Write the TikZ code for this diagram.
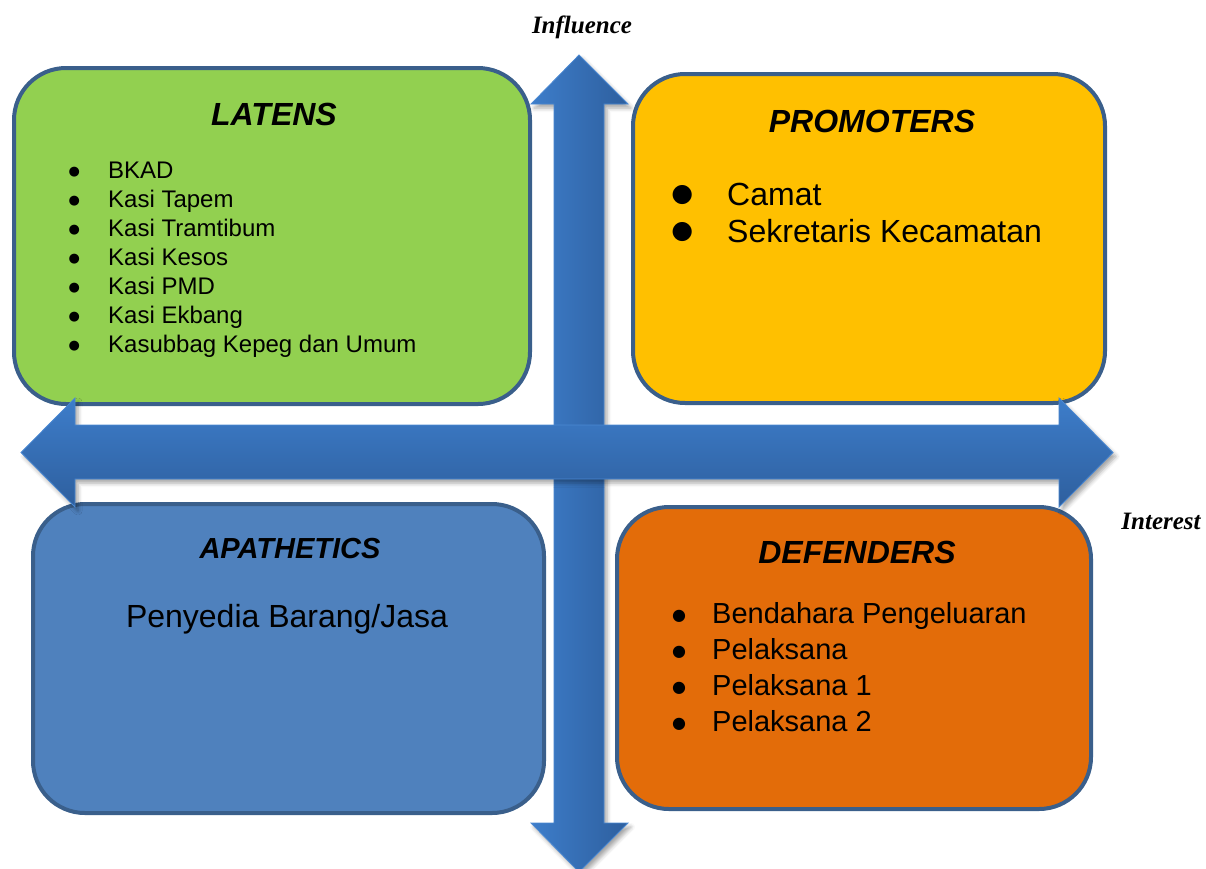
\documentclass[tikz,border=0pt]{standalone}
\usepackage{graphicx}
\usepackage{fontspec}
\setmainfont{Liberation Sans}
\newfontfamily\tnr{Liberation Serif}
\newfontfamily\djv{DejaVu Sans}
\usetikzlibrary{shadows.blur}
\definecolor{edgeblue}{HTML}{3A5F8B}
\definecolor{qgreen}{HTML}{92D050}
\definecolor{qyellow}{HTML}{FFC000}
\definecolor{qblue}{HTML}{4F81BD}
\definecolor{qorange}{HTML}{E36C09}
\definecolor{arlight}{HTML}{3D7DCA}
\definecolor{ardark}{HTML}{2E5F9E}
\definecolor{aredge}{HTML}{4A88D2}
% bullet: size, raise
\newcommand{\blt}[2]{\makebox[0pt][c]{\raisebox{#2}{\djv\fontsize{#1}{#1}\selectfont ●}}}
\tikzset{
  quad/.style={rectangle, rounded corners=52pt, draw=edgeblue, line width=4pt, inner sep=0pt},
  ttl/.style={font=\fontsize{32}{38}\selectfont\bfseries\itshape, anchor=base, inner sep=0pt},
  itm/.style={anchor=base west, inner sep=0pt},
  axislabel/.style={anchor=base, inner sep=0pt, font=\tnr\bfseries\itshape\fontsize{25}{29}\selectfont},
  bigarrow/.style={draw=aredge, line width=0.8pt,
    blur shadow={shadow xshift=3pt, shadow yshift=-4pt, shadow blur radius=4pt, shadow opacity=35}}
}
\begin{document}
\begin{tikzpicture}[x=1pt,y=-1pt]
\useasboundingbox (0,0) rectangle (1206,868);
\clip (0,0) rectangle (1206,868);
% quadrant boxes
\node[quad, fill=qgreen, minimum width=516pt, minimum height=336pt] (latens) at (272,236) {};
\node[quad, fill=qyellow, minimum width=472pt, minimum height=329pt] (promoters) at (869,238.5) {};
\node[quad, fill=qblue, minimum width=511pt, minimum height=309pt] (apathetics) at (288.5,658.5) {};
\node[quad, fill=qorange, minimum width=474pt, minimum height=302pt] (defenders) at (854,658) {};
% vertical double arrow (Influence)
\shade[bigarrow, left color=arlight, right color=ardark]
  (579,55) -- (628,104) -- (604,104) -- (604,823) -- (628,823) -- (579,872)
  -- (531,823) -- (554,823) -- (554,104) -- (531,104) -- cycle;
% horizontal double arrow (Interest)
\shade[bigarrow, top color=arlight, bottom color=ardark]
  (21,452.5) -- (75,398) -- (75,425) -- (1059,425) -- (1059,398) -- (1113,452.5)
  -- (1059,507) -- (1059,479) -- (75,479) -- (75,507) -- cycle;
% axis labels
\node[axislabel] (influence) at (582,33) {Influence};
\node[axislabel] (interest) at (1161,529) {Interest};
% titles
\node[ttl] (latens-t) at (274,125) {LATENS};
\node[ttl] (promoters-t) at (872,132) {PROMOTERS};
\node[ttl, font=\fontsize{29}{35}\selectfont\bfseries\itshape] (apathetics-t) at (290,558) {APATHETICS};
\node[ttl] (defenders-t) at (857,563) {DEFENDERS};
% LATENS list
\foreach \t [count=\i from 0] in {BKAD,Kasi Tapem,Kasi Tramtibum,Kasi Kesos,Kasi PMD,Kasi Ekbang,Kasubbag Kepeg dan Umum}
  \node[itm, font=\fontsize{24}{29}\selectfont] (lat-\i) at (74,178+29*\i)
    {\blt{13}{3pt}\hspace{34pt}\t};
% PROMOTERS list
\foreach \t [count=\i from 0] in {Camat,Sekretaris Kecamatan}
  \node[itm, font=\fontsize{32}{37}\selectfont] (pro-\i) at (682,205+37*\i)
    {\blt{25}{3.5pt}\hspace{45pt}\t};
% APATHETICS text
\node[anchor=base, inner sep=0pt, font=\fontsize{32}{38}\selectfont] (apa-0) at (287,627) {Penyedia Barang/Jasa};
% DEFENDERS list
\foreach \t [count=\i from 0] in {Bendahara Pengeluaran,Pelaksana,Pelaksana 1,Pelaksana 2}
  \node[itm, font=\fontsize{29}{36}\selectfont] (def-\i) at (679,623+36*\i)
    {\blt{16}{2.5pt}\hspace{33pt}\t};
\end{tikzpicture}
\end{document}
